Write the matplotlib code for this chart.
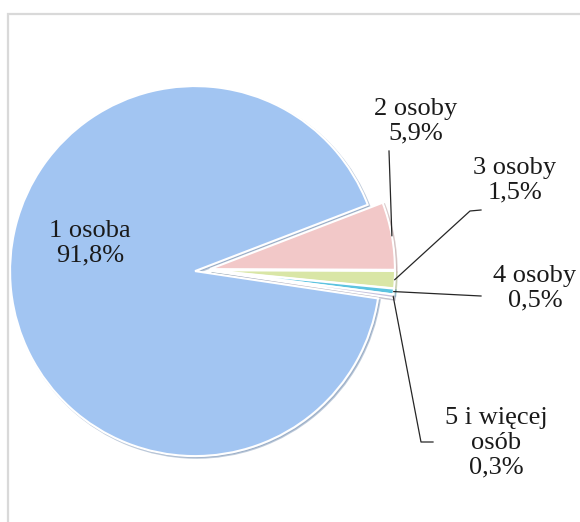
import numpy as np
import matplotlib.pyplot as plt

# data
labels = ['1 osoba', '2 osoby', '3 osoby', '4 osoby', '5 i więcej\nosób']
shares = [91.8, 5.9, 1.5, 0.5, 0.3]
pct_labels = ['91,8%', '5,9%', '1,5%', '0,5%', '0,3%']

colors = ['#a2c5f2', '#f2c8c8', '#d9e6a6', '#5cc3e0', '#c4c0dc']

W, H = 580, 522


def px(x, y):
    # image pixel coords -> data coords (y flipped)
    return x, H - y


# label centres and leader elbows, in image pixels
label_pos = [(90, 243), (416, 121), (515, 180), (535, 288), (496, 443)]
leader_pts = [None, [(389, 151)], [(470, 211), (481, 210)],
              [(481, 296)], [(421, 442), (433, 442)]]

plt.rcParams['font.family'] = ['Liberation Serif', 'DejaVu Serif']

fig = plt.figure(figsize=(W / 100, H / 100), dpi=100)
ax = fig.add_axes([0, 0, 1, 1])

# explode is in data units (pixels here)
wedges, _ = ax.pie(shares, colors=colors, startangle=-8.5, counterclock=False,
                   explode=[10, 5, 5, 5, 5],
                   center=px(205, 270), radius=185,
                   shadow={'ox': 1.2, 'oy': -1.2, 'shade': 0.25},
                   wedgeprops=dict(edgecolor='white', linewidth=1.5))

ax.set_xlim(0, W)
ax.set_ylim(0, H)
ax.set_aspect('equal')
ax.axis('off')

# labels
for i, (lab, pct) in enumerate(zip(labels, pct_labels)):
    x, y = px(*label_pos[i])
    ax.text(x, y, f'{lab}\n{pct}', ha='center', va='center', fontsize=19,
            linespacing=1.15, color='#1a1a1a')

# leader lines from the outer arc of the small slices
for i in range(1, len(wedges)):
    w = wedges[i]
    mid = np.deg2rad((w.theta1 + w.theta2) / 2)
    cx, cy = w.center
    ax_ = cx + w.r * np.cos(mid)
    ay_ = cy + w.r * np.sin(mid)
    pts = [(ax_, ay_)] + [px(*p) for p in leader_pts[i]]
    xs, ys = zip(*pts)
    ax.plot(xs, ys, color='#262626', lw=0.9)

# light grey frame (cut off on right and bottom)
ax.plot([7.5, 7.5, W], [0, H - 13.5, H - 13.5], color='#d9d9d9', lw=1.6,
        solid_joinstyle='miter')

fig.savefig('out.png', dpi=100)
